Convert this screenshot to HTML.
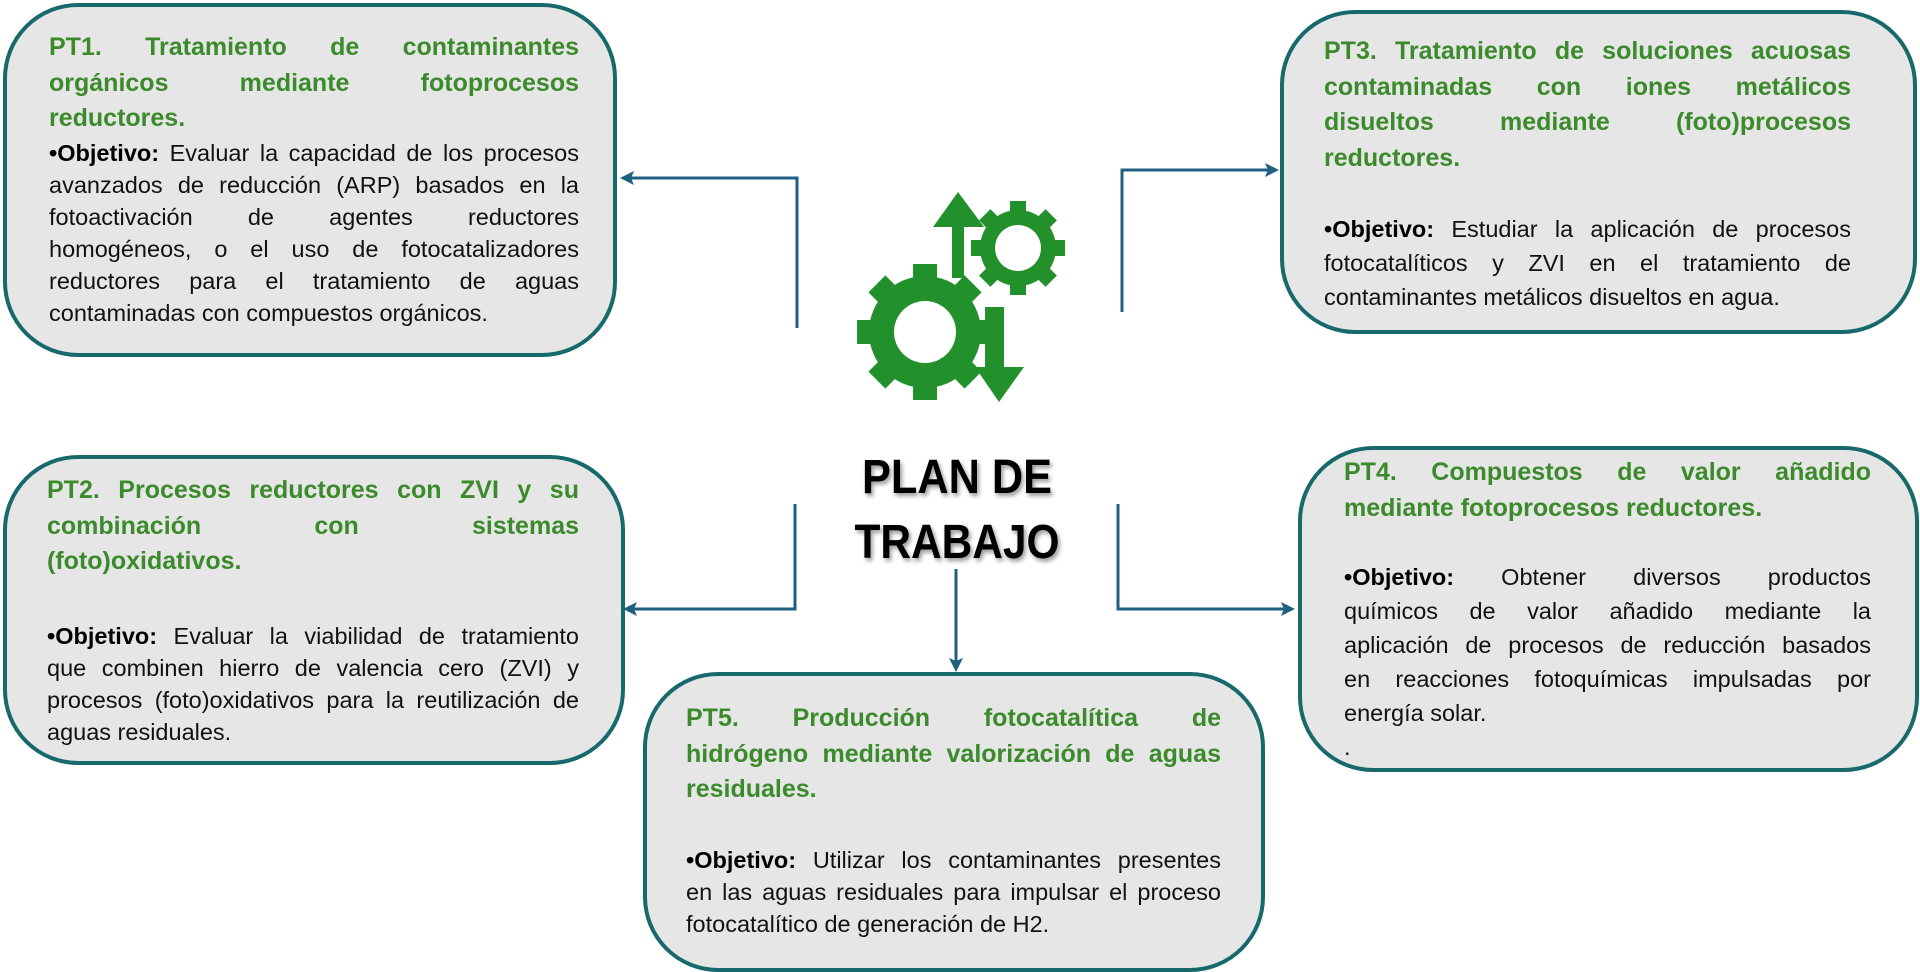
<!DOCTYPE html>
<html><head><meta charset="utf-8">
<style>
html,body{margin:0;padding:0;background:#fff;}
body{width:1920px;height:964px;position:relative;overflow:hidden;font-family:"Liberation Sans",sans-serif;}
.box{position:absolute;box-sizing:border-box;background:#e6e6e6;border:4px solid #17696b;border-radius:75px;}
.t{position:absolute;}
.t div{white-space:nowrap;}
.t .j{text-align:justify;text-align-last:justify;white-space:normal;}
.ti{color:#3b8a2b;font-weight:bold;font-size:25px;line-height:35.5px;}
.bd{color:#111;font-size:23.5px;line-height:32px;}
.bd b{color:#000;}
</style></head><body>
<div class="box" style="left:3px;top:3px;width:614px;height:354px;"></div>
<div class="box" style="left:1280px;top:10px;width:637px;height:324px;"></div>
<div class="box" style="left:3px;top:455px;width:622px;height:310px;"></div>
<div class="box" style="left:1298px;top:446px;width:621px;height:326px;"></div>
<div class="box" style="left:643px;top:672px;width:622px;height:300px;"></div>

<svg width="1920" height="964" style="position:absolute;left:0;top:0">
<g stroke="#1f5f80" stroke-width="3" fill="none">
<polyline points="797,328 797,178 630,178"/>
<polyline points="1122,312 1122,170 1268,170"/>
<polyline points="795,504 795,609 633,609"/>
<polyline points="1118,504 1118,609 1285,609"/>
<line x1="956" y1="569" x2="956" y2="662"/>
</g>
<g fill="#1f5f80">
<polygon points="620,178 634,171 631,178 634,185"/>
<polygon points="1279,170 1265,163 1268,170 1265,177"/>
<polygon points="623,609 637,602 634,609 637,616"/>
<polygon points="1295,609 1281,602 1284,609 1281,616"/>
<polygon points="956,672 949,658 956,661 963,658"/>
</g>
<g fill="#23912b">
<g transform="translate(925,332)">
<circle r="56"/>
<rect x="-12" y="-68" width="24" height="136"/>
<rect x="-12" y="-68" width="24" height="136" transform="rotate(45)"/>
<rect x="-12" y="-68" width="24" height="136" transform="rotate(90)"/>
<rect x="-12" y="-68" width="24" height="136" transform="rotate(135)"/>
<circle r="31" fill="#fff"/>
</g>
<g transform="translate(1018,248)">
<circle r="38"/>
<rect x="-8" y="-47" width="16" height="94"/>
<rect x="-8" y="-47" width="16" height="94" transform="rotate(45)"/>
<rect x="-8" y="-47" width="16" height="94" transform="rotate(90)"/>
<rect x="-8" y="-47" width="16" height="94" transform="rotate(135)"/>
<circle r="23" fill="#fff"/>
</g>
<polygon points="958,192 984,227 964,227 964,278 952,278 952,227 933,227"/>
<polygon points="985,307 1004,307 1004,367 1024,367 999,402 975,367 985,367"/>
</g>
<g font-family="Liberation Sans, sans-serif" font-weight="bold" font-size="48" text-anchor="middle" fill="#000" style="filter:drop-shadow(2px 3px 2px rgba(0,0,0,0.4))">
<text x="957" y="493" textLength="190" lengthAdjust="spacingAndGlyphs">PLAN DE</text>
<text x="957" y="558" textLength="205" lengthAdjust="spacingAndGlyphs">TRABAJO</text>
</g>
</svg>

<div class="t" style="left:49px;top:30px;width:530px;">
<div class="ti j">PT1. Tratamiento de contaminantes</div>
<div class="ti j">orgánicos mediante fotoprocesos</div>
<div class="ti">reductores.</div>
<div class="bd j"><b>•Objetivo:</b> Evaluar la capacidad de los procesos</div>
<div class="bd j">avanzados de reducción (ARP) basados en la</div>
<div class="bd j">fotoactivación de agentes reductores</div>
<div class="bd j">homogéneos, o el uso de fotocatalizadores</div>
<div class="bd j">reductores para el tratamiento de aguas</div>
<div class="bd">contaminadas con compuestos orgánicos.</div>
</div>

<div class="t" style="left:1324px;top:34px;width:527px;">
<div class="ti j">PT3. Tratamiento de soluciones acuosas</div>
<div class="ti j">contaminadas con iones metálicos</div>
<div class="ti j">disueltos mediante (foto)procesos</div>
<div class="ti">reductores.</div>
<div style="height:36px"></div>
<div class="bd j" style="line-height:34px;"><b>•Objetivo:</b> Estudiar la aplicación de procesos</div>
<div class="bd j" style="line-height:34px;">fotocatalíticos y ZVI en el tratamiento de</div>
<div class="bd" style="line-height:34px;">contaminantes metálicos disueltos en agua.</div>
</div>

<div class="t" style="left:47px;top:473px;width:532px;">
<div class="ti j">PT2. Procesos reductores con ZVI y su</div>
<div class="ti j">combinación con sistemas</div>
<div class="ti">(foto)oxidativos.</div>
<div style="height:40px"></div>
<div class="bd j"><b>•Objetivo:</b> Evaluar la viabilidad de tratamiento</div>
<div class="bd j">que combinen hierro de valencia cero (ZVI) y</div>
<div class="bd j">procesos (foto)oxidativos para la reutilización de</div>
<div class="bd">aguas residuales.</div>
</div>

<div class="t" style="left:1344px;top:455px;width:527px;">
<div class="ti j">PT4. Compuestos de valor añadido</div>
<div class="ti">mediante fotoprocesos reductores.</div>
<div style="height:34px"></div>
<div class="bd j" style="line-height:34px;"><b>•Objetivo:</b> Obtener diversos productos</div>
<div class="bd j" style="line-height:34px;">químicos de valor añadido mediante la</div>
<div class="bd j" style="line-height:34px;">aplicación de procesos de reducción basados</div>
<div class="bd j" style="line-height:34px;">en reacciones fotoquímicas impulsadas por</div>
<div class="bd" style="line-height:34px;">energía solar.</div>
<div class="bd" style="line-height:34px;">.</div>
</div>

<div class="t" style="left:686px;top:701px;width:535px;">
<div class="ti j">PT5. Producción fotocatalítica de</div>
<div class="ti j">hidrógeno mediante valorización de aguas</div>
<div class="ti">residuales.</div>
<div style="height:36px"></div>
<div class="bd j"><b>•Objetivo:</b> Utilizar los contaminantes presentes</div>
<div class="bd j">en las aguas residuales para impulsar el proceso</div>
<div class="bd">fotocatalítico de generación de H2.</div>
</div>
</body></html>
